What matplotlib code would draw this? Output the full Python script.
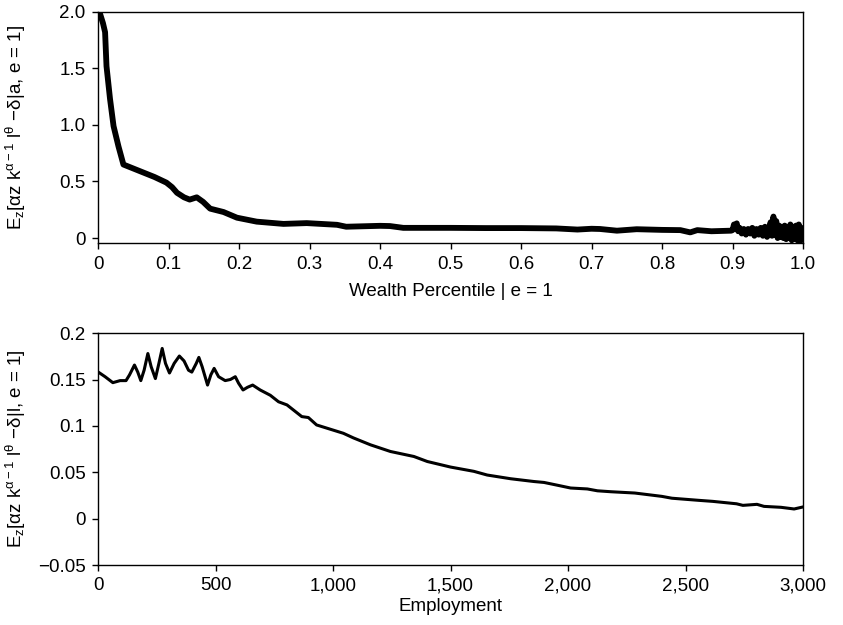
import matplotlib
matplotlib.use("Agg")
import matplotlib.pyplot as plt

plt.rcParams['font.family'] = ['Liberation Sans', 'DejaVu Sans']
plt.rcParams['mathtext.fontset'] = 'custom'
plt.rcParams['mathtext.rm'] = 'Liberation Sans'
plt.rcParams['mathtext.it'] = 'Liberation Sans'
plt.rcParams['mathtext.bf'] = 'Liberation Sans:bold'
plt.rcParams['mathtext.default'] = 'regular'

# ---- Top panel: wealth percentile ----
wealth_pct = [0.0, 0.003, 0.007, 0.010, 0.012, 0.017, 0.022, 0.029, 0.036, 0.060, 0.080,
              0.097, 0.105, 0.112, 0.122, 0.130, 0.140, 0.149, 0.159, 0.178, 0.197,
              0.225, 0.263, 0.296, 0.339, 0.352, 0.40, 0.414, 0.433, 0.50, 0.55,
              0.60, 0.65, 0.68, 0.70, 0.712, 0.736, 0.764, 0.80, 0.826, 0.84, 0.85,
              0.87, 0.898]
wealth_ret = [2.00, 1.98, 1.90, 1.82, 1.52, 1.23, 0.99, 0.81, 0.65, 0.59, 0.54,
              0.49, 0.45, 0.40, 0.36, 0.34, 0.36, 0.32, 0.26, 0.23, 0.18,
              0.145, 0.125, 0.132, 0.117, 0.10, 0.108, 0.106, 0.09, 0.09, 0.088,
              0.088, 0.085, 0.075, 0.082, 0.08, 0.065, 0.078, 0.072, 0.07, 0.05, 0.07,
              0.06, 0.065]
# noisy tail (read as jagged band)
tail_pct = [0.900, 0.902, 0.904, 0.906, 0.908, 0.910, 0.913, 0.916, 0.919, 0.922,
            0.925, 0.928, 0.931, 0.934, 0.937, 0.940, 0.943, 0.946, 0.949, 0.952,
            0.954, 0.956, 0.958, 0.960, 0.962, 0.964, 0.966, 0.968, 0.970, 0.972,
            0.974, 0.976, 0.978, 0.980, 0.982, 0.984, 0.986, 0.988, 0.990, 0.992,
            0.994, 0.996, 0.998, 1.000]
tail_ret = [0.07, 0.12, 0.08, 0.13, 0.06, 0.09, 0.04, 0.08, 0.03, 0.08,
            0.04, 0.09, 0.02, 0.08, 0.03, 0.09, 0.02, 0.10, 0.01, 0.09,
            0.14, 0.02, 0.19, 0.03, 0.15, 0.00, 0.11, 0.01, 0.10, 0.00,
            0.11, -0.01, 0.09, 0.00, 0.12, -0.02, 0.10, -0.01, 0.11, -0.02,
            0.12, -0.03, 0.09, -0.02]

# ---- Bottom panel: employment ----
employment = [1, 30, 63, 94, 119, 134, 155, 169, 182, 196, 212, 226, 244, 259, 273,
              287, 304, 324, 346, 366, 385, 399, 418, 429, 443, 466, 480, 494, 513,
              541, 563, 584, 598, 617, 636, 658, 690, 733, 768, 804, 867, 895, 930,
              1044, 1087, 1159, 1244, 1344, 1401, 1500, 1599, 1656, 1756, 1855, 1898,
              1955, 2011, 2082, 2125, 2182, 2284, 2399, 2442, 2557, 2616, 2717, 2744,
              2804, 2834, 2906, 2962, 3000]
emp_ret = [0.158, 0.153, 0.1466, 0.1488, 0.1488, 0.155, 0.1656, 0.158, 0.1488, 0.160,
           0.178, 0.1638, 0.151, 0.1674, 0.1835, 0.1674, 0.157, 0.1674, 0.1753, 0.170,
           0.160, 0.158, 0.1674, 0.1738, 0.1638, 0.144, 0.155, 0.162, 0.153, 0.1488,
           0.150, 0.153, 0.146, 0.1387, 0.1416, 0.144, 0.1387, 0.133, 0.126, 0.1226,
           0.110, 0.109, 0.101, 0.092, 0.087, 0.0796, 0.0724, 0.067, 0.0616, 0.0556,
           0.051, 0.047, 0.043, 0.040, 0.039, 0.036, 0.033, 0.032, 0.030, 0.029,
           0.0276, 0.024, 0.022, 0.0197, 0.0186, 0.016, 0.0143, 0.0154, 0.0132,
           0.0122, 0.0104, 0.0126]

top_xticks = [0, 0.1, 0.2, 0.3, 0.4, 0.5, 0.6, 0.7, 0.8, 0.9, 1.0]
top_xlabels = ["0", "0.1", "0.2", "0.3", "0.4", "0.5", "0.6", "0.7", "0.8", "0.9", "1.0"]
top_yticks = [0, 0.5, 1.0, 1.5, 2.0]
top_ylabels = ["0", "0.5", "1.0", "1.5", "2.0"]
bot_xticks = [0, 500, 1000, 1500, 2000, 2500, 3000]
bot_xlabels = ["0", "500", "1,000", "1,500", "2,000", "2,500", "3,000"]
bot_yticks = [-0.05, 0, 0.05, 0.1, 0.15, 0.2]
bot_ylabels = ["\u22120.05", "0", "0.05", "0.1", "0.15", "0.2"]

FS = 13.5

fig = plt.figure(figsize=(8.43, 6.25), dpi=100)
ax1 = fig.add_axes([0.1163, 0.611, 0.8363, 0.370])
ax2 = fig.add_axes([0.1163, 0.096, 0.8363, 0.371])

ax1.plot(wealth_pct + tail_pct, wealth_ret + tail_ret, color='black', lw=4.2,
         solid_joinstyle='round', solid_capstyle='butt')
ax1.set_xlim(0, 1.0)
ax1.set_ylim(-0.045, 2.0)
ax1.set_xticks(top_xticks)
ax1.set_xticklabels(top_xlabels)
ax1.set_yticks(top_yticks)
ax1.set_yticklabels(top_ylabels)
ax1.set_xlabel("Wealth Percentile | e = 1", fontsize=FS)
ax1.set_ylabel(r"E$_z$[$\alpha$z k$^{\alpha-1}$ l$^{\theta}$ $-\delta$|a, e = 1]", fontsize=FS)
ax1.xaxis.set_label_coords(0.5, -0.172)
ax1.yaxis.set_label_coords(-0.099, 0.5)

ax2.plot(employment, emp_ret, color='black', lw=2.2, solid_joinstyle='round')
ax2.set_xlim(0, 3000)
ax2.set_ylim(-0.05, 0.2)
ax2.set_xticks(bot_xticks)
ax2.set_xticklabels(bot_xlabels)
ax2.set_yticks(bot_yticks)
ax2.set_yticklabels(bot_ylabels)
ax2.set_xlabel("Employment", fontsize=FS)
ax2.set_ylabel(r"E$_z$[$\alpha$z k$^{\alpha-1}$ l$^{\theta}$ $-\delta$|l, e = 1]", fontsize=FS)
ax2.xaxis.set_label_coords(0.5, -0.142)
ax2.yaxis.set_label_coords(-0.099, 0.5)

for ax in (ax1, ax2):
    ax.tick_params(direction='out', length=4, width=1, labelsize=FS, pad=5)
    for s in ax.spines.values():
        s.set_linewidth(1.0)

fig.savefig("out.png", dpi=100)
